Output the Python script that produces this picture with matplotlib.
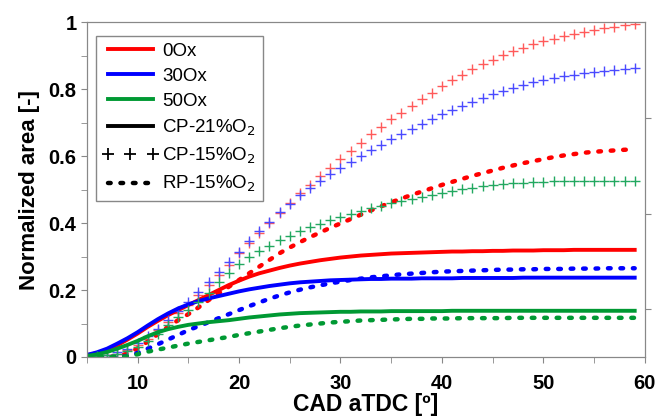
import numpy as np
import matplotlib
matplotlib.use("Agg")
import matplotlib.pyplot as plt
from matplotlib.lines import Line2D

plt.rcParams['font.family'] = ['Liberation Sans', 'DejaVu Sans']

# crank angle, deg aTDC
cad = np.arange(5, 60)

# CP-21%O2 (solid)
cp21_0ox = [0.005, 0.012, 0.02, 0.035, 0.052, 0.07, 0.09, 0.108, 0.125, 0.14,
            0.155, 0.17, 0.185, 0.2, 0.215, 0.228, 0.24, 0.25, 0.258, 0.266,
            0.273, 0.279, 0.284, 0.289, 0.293, 0.297, 0.3, 0.303, 0.305, 0.307,
            0.309, 0.31, 0.311, 0.312, 0.313, 0.314, 0.315, 0.315, 0.316, 0.316,
            0.317, 0.317, 0.318, 0.318, 0.318, 0.319, 0.319, 0.319, 0.32, 0.32,
            0.32, 0.32, 0.32, 0.32, 0.32]
cp21_30ox = [0.006, 0.014, 0.025, 0.04, 0.056, 0.074, 0.094, 0.113, 0.13, 0.145,
             0.157, 0.167, 0.175, 0.182, 0.189, 0.196, 0.202, 0.207, 0.212, 0.216,
             0.22, 0.223, 0.225, 0.227, 0.229, 0.23, 0.231, 0.232, 0.233, 0.233,
             0.234, 0.234, 0.234, 0.235, 0.235, 0.235, 0.235, 0.236, 0.236, 0.236,
             0.236, 0.236, 0.236, 0.237, 0.237, 0.237, 0.237, 0.237, 0.237, 0.237,
             0.237, 0.237, 0.237, 0.237, 0.237]
cp21_50ox = [0.003, 0.008, 0.015, 0.025, 0.036, 0.048, 0.062, 0.074, 0.083, 0.09,
             0.096, 0.1, 0.104, 0.107, 0.11, 0.114, 0.118, 0.121, 0.124, 0.127,
             0.129, 0.131, 0.132, 0.133, 0.134, 0.135, 0.135, 0.136, 0.136, 0.136,
             0.137, 0.137, 0.137, 0.137, 0.137, 0.137, 0.138, 0.138, 0.138, 0.138,
             0.138, 0.138, 0.138, 0.138, 0.138, 0.138, 0.138, 0.138, 0.138, 0.138,
             0.138, 0.138, 0.138, 0.138, 0.138]

# CP-15%O2 (crosses)
cp15_0ox = [0.0, 0.002, 0.005, 0.01, 0.02, 0.035, 0.055, 0.08, 0.105, 0.13,
            0.155, 0.185, 0.215, 0.245, 0.275, 0.31, 0.34, 0.37, 0.4, 0.43,
            0.46, 0.49, 0.515, 0.54, 0.565, 0.59, 0.615, 0.64, 0.665, 0.688,
            0.71, 0.73, 0.75, 0.77, 0.79, 0.808, 0.826, 0.843, 0.859, 0.874,
            0.888, 0.901, 0.913, 0.924, 0.934, 0.943, 0.951, 0.959, 0.966, 0.972,
            0.978, 0.983, 0.987, 0.991, 0.994]
cp15_30ox = [0.0, 0.003, 0.007, 0.014, 0.025, 0.042, 0.062, 0.085, 0.11, 0.137,
             0.165, 0.195, 0.225, 0.255, 0.285, 0.315, 0.345, 0.375, 0.404, 0.432,
             0.458, 0.483, 0.505, 0.526, 0.546, 0.565, 0.583, 0.6, 0.617, 0.634,
             0.65, 0.666, 0.682, 0.697, 0.712, 0.726, 0.739, 0.751, 0.763, 0.774,
             0.785, 0.795, 0.804, 0.812, 0.82, 0.827, 0.833, 0.838, 0.843, 0.847,
             0.851, 0.854, 0.857, 0.86, 0.862]
cp15_50ox = [0.0, 0.002, 0.005, 0.01, 0.018, 0.03, 0.048, 0.07, 0.095, 0.12,
             0.14, 0.165, 0.19, 0.225, 0.252, 0.278, 0.298, 0.316, 0.333, 0.348,
             0.362, 0.375, 0.387, 0.398, 0.408, 0.418, 0.427, 0.436, 0.444, 0.452,
             0.459, 0.466, 0.473, 0.479, 0.485, 0.491, 0.496, 0.501, 0.506, 0.51,
             0.513, 0.516, 0.519, 0.521, 0.523, 0.524, 0.525, 0.526, 0.526, 0.527,
             0.527, 0.527, 0.527, 0.527, 0.527]

# RP-15%O2 (dotted)
rp15_0ox = [0.0, 0.0, 0.0, 0.002, 0.01, 0.026, 0.046, 0.068, 0.09, 0.11,
            0.128, 0.148, 0.17, 0.19, 0.21, 0.23, 0.25, 0.27, 0.29, 0.31,
            0.327, 0.343, 0.358, 0.372, 0.386, 0.399, 0.412, 0.425, 0.438, 0.45,
            0.462, 0.473, 0.484, 0.494, 0.504, 0.514, 0.523, 0.532, 0.541, 0.549,
            0.557, 0.565, 0.572, 0.579, 0.585, 0.591, 0.597, 0.602, 0.606, 0.61,
            0.613, 0.615, 0.617, 0.619, 0.62]
rp15_30ox = [0.0, 0.0, 0.0, 0.0, 0.003, 0.012, 0.025, 0.038, 0.052, 0.066,
             0.08, 0.092, 0.104, 0.116, 0.128, 0.14, 0.152, 0.163, 0.174, 0.184,
             0.193, 0.201, 0.208, 0.214, 0.22, 0.225, 0.23, 0.234, 0.238, 0.241,
             0.244, 0.247, 0.249, 0.251, 0.253, 0.255, 0.256, 0.257, 0.258, 0.259,
             0.26, 0.261, 0.261, 0.262, 0.262, 0.263, 0.263, 0.263, 0.264, 0.264,
             0.264, 0.265, 0.265, 0.265, 0.265]
rp15_50ox = [0.0, 0.0, 0.0, 0.0, 0.002, 0.008, 0.016, 0.022, 0.028, 0.034,
             0.04, 0.045, 0.05, 0.055, 0.06, 0.066, 0.071, 0.076, 0.081, 0.086,
             0.09, 0.094, 0.097, 0.1, 0.103, 0.105, 0.107, 0.109, 0.11, 0.111,
             0.112, 0.113, 0.114, 0.114, 0.115, 0.115, 0.115, 0.116, 0.116, 0.116,
             0.116, 0.116, 0.117, 0.117, 0.117, 0.117, 0.117, 0.117, 0.117, 0.117,
             0.117, 0.117, 0.117, 0.117, 0.117]

fuels = ['0Ox', '30Ox', '50Ox']
line_cols = ['#ff0000', '#0000ff', '#009933']
cross_cols = ['#ff5a5a', '#4a4aff', '#22a860']

yticks = [0, 0.2, 0.4, 0.6, 0.8, 1.0]
ytick_labels = ['0', '0.2', '0.4', '0.6', '0.8', '1']
xticks = [10, 20, 30, 40, 50, 60]

fig = plt.figure(figsize=(6.58, 4.19), dpi=100)
ax = fig.add_axes([0.132, 0.148, 0.848, 0.799])

cp21 = [cp21_0ox, cp21_30ox, cp21_50ox]
cp15 = [cp15_0ox, cp15_30ox, cp15_50ox]
rp15 = [rp15_0ox, rp15_30ox, rp15_50ox]

for i in range(3):
    ax.plot(cad, cp15[i], ls='none', marker='+', ms=7, mew=1.0, color=cross_cols[i])
    ax.plot(cad, rp15[i], ls=(0, (0.6, 2.2)), lw=3.2, color=line_cols[i],
            dash_capstyle='round')
    ax.plot(cad, cp21[i], ls='-', lw=2.8, color=line_cols[i])

ax.set_xlim(5, 60)
ax.set_ylim(0, 1)
ax.set_xticks(xticks)
ax.set_xticks(np.arange(5, 60, 10), minor=True)
ax.set_yticks(yticks)
ax.set_yticklabels(ytick_labels)
ax.set_yticks(np.arange(0.1, 1.0, 0.2), minor=True)
for lab in ax.get_xticklabels() + ax.get_yticklabels():
    lab.set_fontweight('bold')
    lab.set_fontsize(14.5)
ax.tick_params(which='both', direction='out', length=4, color='#888888', top=False)
ax.tick_params(axis='x', pad=8)
for s in ax.spines.values():
    s.set_color('#888888')

# unlabelled right-hand axis
ax2 = ax.twinx()
ax2.set_ylim(0, 3.5)
ax2.set_yticks([0.5, 1.5, 2.5])
ax2.set_yticklabels([])
ax2.tick_params(direction='out', length=4, color='#888888')
for s in ax2.spines.values():
    s.set_color('#888888')

ax.set_xlabel('CAD aTDC [º]', fontsize=16.5, fontweight='bold', labelpad=0)
ax.set_ylabel('Normalized area [-]', fontsize=16, fontweight='bold', labelpad=6)

handles = [Line2D([], [], color=c, lw=2.8) for c in line_cols]
handles += [Line2D([], [], color='black', lw=2.8),
            Line2D([], [], color='black', ls='none', marker='+', ms=8, mew=1.3),
            Line2D([], [], color='black', ls=(0, (0.6, 2.2)), lw=3.2, dash_capstyle='round')]
labels = fuels + ['CP-21%O$_2$', 'CP-15%O$_2$', 'RP-15%O$_2$']
leg = ax.legend(handles, labels, loc='upper left', bbox_to_anchor=(0.016, 0.958),
                fontsize=13.5, numpoints=3, handlelength=3.0, handletextpad=0.2,
                labelspacing=0.42, borderpad=0.35, borderaxespad=0, fancybox=False,
                edgecolor='#888888', framealpha=1)
leg.get_frame().set_linewidth(1.0)

fig.savefig('out.png', dpi=100)
